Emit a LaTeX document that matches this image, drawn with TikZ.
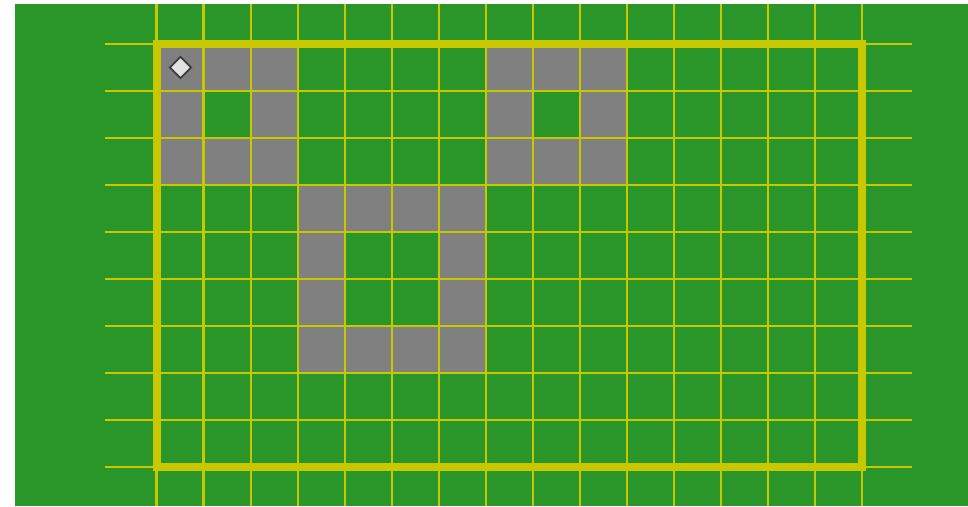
\documentclass[tikz,border=0pt]{standalone}
\usepackage{tikz}
\usetikzlibrary{shapes.geometric}
\definecolor{fieldgreen}{RGB}{42,150,42}
\definecolor{gridyellow}{RGB}{200,200,0}
\definecolor{wallgray}{RGB}{128,128,128}
\definecolor{tokenfill}{RGB}{225,225,225}
\definecolor{tokenedge}{RGB}{60,60,60}

\begin{document}
\begin{tikzpicture}[
      wall/.style={fill=wallgray},
      gridline/.style={draw=gridyellow,line width=1.8pt},
      border/.style={draw=gridyellow,line width=4.8pt,line cap=rect},
      token/.style={diamond,draw=tokenedge,fill=tokenfill,line width=1.1pt,inner sep=0pt,minimum size=0.47cm}
    ]
      \useasboundingbox (-3.340,-0.830) rectangle (17.255,9.936);
      \fill[white] (-3.340,-0.830) rectangle (17.255,9.936);
      \fill[fieldgreen] (-3.021,-0.830) rectangle (17.255,9.851);
      % gray cells (column / row from top)
      \foreach \c/\r in {0/0,1/0,2/0,7/0,8/0,9/0,
                         0/1,2/1,7/1,9/1,
                         0/2,1/2,2/2,7/2,8/2,9/2,
                         3/3,4/3,5/3,6/3,
                         3/4,6/4,3/5,6/5,
                         3/6,4/6,5/6,6/6}
        \fill[wall] (\c,8-\r) rectangle ++(1,1);
      % grid lines
      \foreach \x in {0,...,15}
        \draw[gridline] (\x,-0.830) -- (\x,9.851);
      \foreach \y in {0,...,9}
        \draw[gridline] (-1.106,\y) -- (16.064,\y);
      \draw[border] (0,0) rectangle (15,9);
      \node[token] (start) at (0.5,8.5) {};
    \end{tikzpicture}
\end{document}
